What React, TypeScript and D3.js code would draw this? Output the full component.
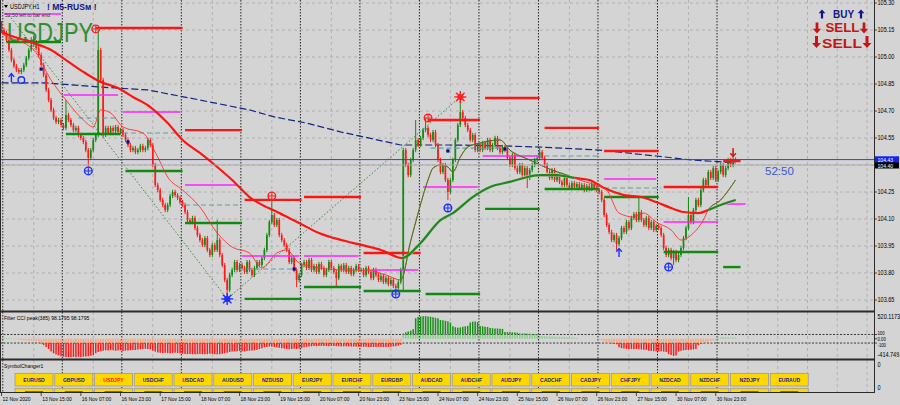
import React from 'react';
import * as d3 from 'd3';

const W = 900;
const H = 405;

// ---------- DATA ----------
const open0 = 105.19;
const closes = [
  105.150, 105.133, 105.094, 105.039, 104.983, 104.950, 104.928, 104.917, 104.928, 104.956,
  104.994, 105.039, 105.067, 105.083, 105.050, 105.011, 104.956, 104.900, 104.817, 104.761,
  104.706, 104.661, 104.639, 104.650, 104.622, 104.606, 104.678, 104.650, 104.622, 104.594,
  104.606, 104.567, 104.550, 104.528, 104.483, 104.439, 104.483, 104.539, 104.567, 105.039,
  104.872, 104.567, 104.606, 104.578, 104.606, 104.589, 104.611, 104.583, 104.594, 104.567,
  104.539, 104.511, 104.483, 104.494, 104.472, 104.483, 104.506, 104.483, 104.494, 104.539,
  104.511, 104.400, 104.289, 104.261, 104.206, 104.178, 104.150, 104.178, 104.228, 104.250,
  104.233, 104.217, 104.194, 104.178, 104.139, 104.094, 104.083, 104.106, 104.050, 104.011,
  103.983, 103.956, 103.994, 103.928, 103.900, 103.956, 103.928, 103.983, 103.900, 103.844,
  103.761, 103.706, 103.789, 103.817, 103.861, 103.817, 103.844, 103.828, 103.806, 103.861,
  103.817, 103.789, 103.828, 103.861, 103.844, 103.883, 103.928, 104.011, 104.083, 104.122,
  104.067, 104.094, 104.011, 103.983, 103.956, 103.928, 103.861, 103.883, 103.817, 103.761,
  103.789, 103.844, 103.861, 103.828, 103.872, 103.817, 103.839, 103.806, 103.850, 103.828,
  103.789, 103.817, 103.861, 103.828, 103.806, 103.772, 103.839, 103.817, 103.844, 103.806,
  103.828, 103.794, 103.817, 103.839, 103.817, 103.817, 103.789, 103.828, 103.806, 103.772,
  103.817, 103.789, 103.761, 103.783, 103.750, 103.772, 103.739, 103.761, 103.728, 103.717,
  103.750, 103.817, 104.483, 104.400, 104.344, 104.428, 104.483, 104.539, 104.511, 104.550,
  104.594, 104.606, 104.567, 104.539, 104.583, 104.511, 104.428, 104.361, 104.400, 104.317,
  104.250, 104.317, 104.428, 104.539, 104.622, 104.694, 104.661, 104.622, 104.594, 104.539,
  104.567, 104.483, 104.511, 104.483, 104.522, 104.494, 104.539, 104.483, 104.511, 104.550,
  104.494, 104.472, 104.500, 104.483, 104.439, 104.400, 104.456, 104.383, 104.361, 104.400,
  104.344, 104.383, 104.328, 104.372, 104.400, 104.428, 104.439, 104.472, 104.439, 104.400,
  104.361, 104.328, 104.372, 104.317, 104.344, 104.306, 104.289, 104.328, 104.289, 104.272,
  104.300, 104.278, 104.294, 104.272, 104.289, 104.261, 104.283, 104.267, 104.294, 104.272,
  104.261, 104.250, 104.206, 104.122, 104.067, 104.028, 103.983, 104.011, 103.961, 103.994,
  104.050, 104.028, 104.083, 104.050, 104.106, 104.128, 104.094, 104.139, 104.094, 104.067,
  104.106, 104.050, 104.083, 104.039, 104.061, 104.050, 104.011, 103.939, 103.900, 103.928,
  103.883, 103.917, 103.872, 103.900, 103.939, 103.994, 104.050, 104.122, 104.083, 104.150,
  104.206, 104.178, 104.261, 104.317, 104.289, 104.361, 104.328, 104.383, 104.317, 104.361,
  104.400, 104.344, 104.383, 104.428, 104.400, 104.428, 104.430,
];
const wick = 0.012;
const extremes: [number, string, number][] = [
  [0, 'h', 105.2], [12, 'h', 105.11], [13, 'h', 105.12], [26, 'h', 104.76], [35, 'l', 104.389],
  [39, 'h', 105.15], [87, 'h', 104.094], [91, 'l', 103.656], [109, 'h', 104.206], [119, 'l', 103.722],
  [135, 'l', 103.722], [159, 'l', 103.689], [162, 'l', 103.7], [167, 'h', 104.65], [171, 'h', 104.661],
  [180, 'l', 104.206], [185, 'h', 104.778], [212, 'l', 104.272], [217, 'h', 104.5], [248, 'l', 103.928],
  [257, 'h', 104.222], [271, 'l', 103.844], [277, 'h', 104.222], [295, 'h', 104.483],
];

const slowMA: [number, number][] = [
  [0, 105.14], [1, 105.133], [13, 105.078], [20, 105.039], [26, 104.983], [33, 104.917], [40, 104.861],
  [47, 104.828], [53, 104.778], [60, 104.722], [67, 104.633], [73, 104.539], [80, 104.467],
  [87, 104.389], [93, 104.317], [100, 104.222], [112, 104.133], [120, 104.078], [128, 104.022],
  [137, 103.983], [145, 103.956], [153, 103.928], [161.5, 103.883], [169, 103.967], [177, 104.094],
  [182, 104.133], [190, 104.222], [197, 104.278], [205, 104.306], [217, 104.344], [224, 104.344],
  [231, 104.328], [237, 104.317], [243, 104.272], [251, 104.233], [258, 104.222], [264, 104.194],
  [270, 104.161], [275, 104.139], [281, 104.133], [285, 104.15], [291, 104.183], [296, 104.206],
];
const fastMA: [number, number][] = [
  [0, 105.13], [1, 105.122], [13, 105.039], [20, 104.872], [26, 104.761], [33, 104.65], [37, 104.611],
  [40, 104.706], [44, 104.689], [49, 104.611], [57, 104.578], [63, 104.444], [67, 104.333],
  [73, 104.261], [80, 104.167], [87, 104.022], [93, 103.944], [100, 103.911], [105, 103.828],
  [111, 103.911], [115, 103.928], [120, 103.856], [128, 103.828], [139, 103.817], [147, 103.817],
  [155, 103.789], [161, 103.761], [165, 103.978], [168, 104.133], [172, 104.317], [174, 104.383],
  [177, 104.4], [180, 104.389], [182, 104.361], [185, 104.444], [188, 104.5], [193, 104.522],
  [201, 104.539], [205, 104.483], [213, 104.428], [222, 104.372], [228, 104.344], [233, 104.317],
  [237, 104.3], [244, 104.261], [249, 104.133], [255, 104.111], [259, 104.133], [264, 104.083],
  [270, 104.039], [274, 103.983], [279, 104.022], [283, 104.094], [285, 104.15], [290, 104.206],
  [296, 104.317],
];
const trendFlips = [161.5, 231, 285];

const longMA: [number, number][] = [
  [0, 104.856], [18, 104.856], [40, 104.833], [59, 104.817], [80, 104.761], [100, 104.706],
  [110, 104.667], [123, 104.633], [137, 104.583], [150, 104.544], [161, 104.511], [181, 104.511],
  [197, 104.508], [217, 104.5], [241, 104.483], [264, 104.45], [278, 104.428], [291, 104.417],
  [296, 104.411],
];

const zigzag: [number, number][] = [[3, 105.233], [91, 103.656], [185, 104.778]];

const redLevels: [number, number, number][] = [
  [38, 73, 105.161], [74, 97, 104.594], [98, 121, 104.206], [122, 145, 104.222], [146, 169, 103.911],
  [172, 193, 104.65], [195, 217, 104.772], [219, 241, 104.606], [243, 265, 104.478],
  [267, 289, 104.278], [291, 298, 104.422],
];
const greenLevels: [number, number, number][] = [
  [2, 24, 105.083], [26, 48, 104.572], [50, 73, 104.367], [74, 97, 104.078], [98, 121, 103.656],
  [122, 145, 103.722], [146, 169, 103.7], [171, 193, 103.683], [195, 217, 104.156],
  [219, 241, 104.267], [243, 265, 104.222], [267, 289, 103.917], [291, 298, 103.833],
];
const magentaLevels: [number, number, number][] = [
  [1, 24, 105.239], [25, 47, 104.789], [49, 72, 104.694], [74, 95, 104.289], [97, 120, 103.894],
  [122, 144, 103.894], [149, 168, 103.817], [170, 192, 104.278], [194, 217, 104.45],
  [243, 264, 104.322], [267, 289, 104.083], [291, 300, 104.183],
];
const tealLevels: [number, number, number][] = [
  [31, 47, 104.661], [49, 73, 104.578], [74, 96, 104.178], [99, 119, 103.822], [173, 203, 104.494],
  [219, 241, 104.45], [243, 266, 104.272],
];

const bidPrice = 104.43;
const askPrice = 104.40;

const signals: [number, number, string][] = [
  [4, 104.883, 'upBlue'], [8, 104.872, 'ring'], [35, 104.367, 'crossBlue'], [38, 105.156, 'crossRed'],
  [16, 104.933, 'square'], [51, 104.528, 'square'], [91, 103.656, 'starBlue'], [109, 104.228, 'crossRed'],
  [118, 103.822, 'square'], [159, 103.683, 'crossBlue'], [172, 104.661, 'crossRed'], [180, 104.478, 'square'],
  [180, 104.161, 'crossBlue'], [185, 104.778, 'starRed'], [203, 104.489, 'square'], [249, 103.911, 'upBlue'],
  [269, 103.833, 'crossBlue'], [295, 104.472, 'downRed'],
];

const cci = [
  20, 25, 20, 15, 10,
  5, -10, -20,
  -30, -35, -40, -45, -50, -55, -60, -70,
  -110, -150, -190, -240,
  -300, -340, -370, -390,
  -410, -420, -425, -430, -430, -425, -430, -420, -425, -420, -415, -410, -400, -380,
  -340, -310, -290,
  -280, -270, -275, -265, -270, -280, -275, -270, -285, -280, -275, -270, -260, -265, -250, -245,
  -240, -235, -240, -250, -280, -300, -320, -330, -335,
  -330, -335, -340, -330, -325, -335, -340, -350, -355, -360, -358, -362, -365, -360, -355,
  -360, -365, -360, -350, -355, -360, -365, -360, -350, -340, -330, -310, -300, -295, -290, -285,
  -290, -295, -285, -280, -275, -270, -260, -240, -220, -200, -190, -180,
  -185, -190, -200, -210, -220, -230, -240, -245, -240, -235, -240, -230,
  -220, -200, -190, -180, -175, -170, -175, -170, -168, -172, -170, -175, -170, -168, -172, -175,
  -180, -178, -175, -180, -182, -185, -180, -185,
  -188, -190, -185, -190, -192, -195, -190, -188, -190, -195, -192, -190, -185, -180, -175, -160, -140,
  120, 150, 170, 190, 220,
  480, 510, 520, 525, 530, 520, 515, 500, 490, 480,
  440, 430, 420, 410, 380,
  290, 270, 260, 265, 280, 290, 300,
  380, 400, 405, 390,
  300, 290, 280, 275,
  250, 245, 240, 240, 235, 230,
  160, 155, 150, 150, 145, 140,
  125, 120, 120, 118, 115, 110, 108, 105,
  70, 65, 60, 55, 55, 50, 50, 45, 45, 40, 40, 35, 30, 30, 25, 20,
  0, 0, 0, 0, 0, 0, 0, 0,
  -20, -40, -60, -80,
  -100, -110, -120, -130,
  -200, -220, -230, -235, -240, -240, -245, -240, -245, -250, -255, -260,
  -280, -285, -290, -290, -295, -290, -300, -310,
  -360, -380, -400, -390,
  -300, -280, -270, -260, -260, -255, -250, -240,
  -150, -120, -110, -100,
  -60, -50, -40, -30,
  30, 30, 35, 30, 30, 25, 30, 30,
];
const cciMax = 520.1173;
const cciMin = -414.749;

const priceTicks = [105.3, 105.15, 105.0, 104.85, 104.7, 104.55, 104.4, 104.25, 104.1, 103.95, 103.8, 103.65];
const daySeps = [1, 25, 49, 73, 97, 121, 145, 169, 193, 217, 241, 265, 289];
const gridBars = [13, 37, 61, 85, 109, 133, 157, 181, 205, 229, 253, 277, 301, 313, 325, 337, 349];
const timeLabels: [number, string][] = [
  [0, '12 Nov 2020'], [16, '13 Nov 15:00'], [32, '16 Nov 07:00'], [48, '16 Nov 23:00'],
  [64, '17 Nov 15:00'], [80, '18 Nov 07:00'], [96, '18 Nov 23:00'], [112, '19 Nov 15:00'],
  [128, '20 Nov 07:00'], [144, '20 Nov 23:00'], [160, '23 Nov 15:00'], [176, '24 Nov 07:00'],
  [192, '24 Nov 23:00'], [208, '25 Nov 15:00'], [224, '26 Nov 07:00'], [240, '26 Nov 23:00'],
  [256, '27 Nov 15:00'], [272, '30 Nov 07:00'], [288, '30 Nov 23:00'],
];
const symbols = [
  'EURUSD', 'GBPUSD', 'USDJPY', 'USDCHF', 'USDCAD', 'AUDUSD', 'NZDUSD', 'EURJPY', 'EURCHF', 'EURGBP',
  'AUDCAD', 'AUDCHF', 'AUDJPY', 'CADCHF', 'CADJPY', 'CHFJPY', 'NZDCAD', 'NZDCHF', 'NZDJPY', 'EURAUD',
];
const secondRowCount = 20;
const currentSymbol = 'USDJPY';

// ---------- LAYOUT ----------
const AX = 874;
const MAIN_BOTTOM = 310;
const FONT = 'Liberation Sans, Arial, sans-serif';
const BG = '#d4d4d4';

function T(props: any) {
  const { x, y, children, size = 6.5, fill = '#000', weight = 'normal', anchor = 'start', sx = 0.85, family = FONT } = props;
  return (
    <text transform={`translate(${x},${y}) scale(${sx},1)`} fontSize={size} fill={fill}
      fontWeight={weight} textAnchor={anchor} fontFamily={family}>{children}</text>
  );
}

export default function App() {
  const x = d3.scaleLinear().domain([0, 296]).range([1.5, 1.5 + 2.48 * 296]);
  const y = d3.scaleLinear().domain([103.65, 105.3]).range([300, 3]);
  const yc = d3.scaleLinear().domain([cciMin, cciMax]).range([356.5, 316.5]);

  const hiMap = new Map<number, number>();
  const loMap = new Map<number, number>();
  extremes.forEach(([b, t, v]) => (t === 'h' ? hiMap : loMap).set(b, v));

  const candles = closes.map((c, i) => {
    const o = i === 0 ? open0 : closes[i - 1];
    const h = hiMap.has(i) ? hiMap.get(i)! : Math.max(o, c) + wick;
    const l = loMap.has(i) ? loMap.get(i)! : Math.min(o, c) - wick;
    return { i, o, c, h, l };
  });

  const line = d3.line<[number, number]>().x(d => x(d[0])).y(d => y(d[1])).curve(d3.curveMonotoneX);
  const lineLin = d3.line<[number, number]>().x(d => x(d[0])).y(d => y(d[1]));

  const bounds = [-10, ...trendFlips, 400];
  const upRanges: [number, number][] = [];
  for (let k = 0; k < bounds.length - 1; k++) if (k % 2 === 1) upRanges.push([bounds[k], bounds[k + 1]]);

  const levelSeg = (arr: [number, number, number][], color: string, w: number, dash?: string) =>
    arr.map(([a, b, p], k) => (
      <line key={color + k} x1={x(a)} x2={x(b)} y1={y(p)} y2={y(p)} stroke={color} strokeWidth={w}
        strokeDasharray={dash} />
    ));

  const marker = (s: [number, number, string], k: number) => {
    const [b, p, t] = s;
    const cx = x(b), cy = y(p);
    if (t === 'square') return <rect key={k} x={cx - 1.6} y={cy - 1.6} width={3.2} height={3.2} fill="#0a0a80" />;
    if (t === 'ring') return <circle key={k} cx={cx} cy={cy} r={3.3} fill="none" stroke="#1a2fff" strokeWidth={1.4} />;
    if (t === 'crossBlue' || t === 'crossRed') {
      const col = t === 'crossBlue' ? '#1a2fff' : '#ff2020';
      return (
        <g key={k} transform={`translate(${cx},${cy})`}>
          <circle r={3.8} fill="none" stroke={col} strokeWidth={1.4} />
          <line x1={-3.8} x2={3.8} y1={0} y2={0} stroke={col} strokeWidth={1} />
          <line y1={-3.8} y2={3.8} x1={0} x2={0} stroke={col} strokeWidth={1} />
        </g>
      );
    }
    if (t === 'starBlue' || t === 'starRed') {
      const col = t === 'starBlue' ? '#1a2fff' : '#ff2020';
      const spokes = d3.range(8).map(j => (j * Math.PI) / 4);
      return (
        <g key={k} transform={`translate(${cx},${cy})`}>
          {spokes.map((a, j) => (
            <line key={j} x1={0} y1={0} x2={6 * Math.cos(a)} y2={6 * Math.sin(a)} stroke={col} strokeWidth={1.4} />
          ))}
          <circle r={3} fill={col} />
        </g>
      );
    }
    if (t === 'upBlue') {
      return (
        <g key={k} transform={`translate(${cx},${cy})`} stroke="#1a2fff" strokeWidth={1.4} fill="none">
          <line x1={0} y1={4} x2={0} y2={-4} />
          <path d="M-2.8,-1.2 L0,-4.5 L2.8,-1.2" />
        </g>
      );
    }
    if (t === 'downRed') {
      return (
        <g key={k} transform={`translate(${cx},${cy})`} stroke="#e01010" strokeWidth={1.4} fill="none">
          <line x1={0} y1={-4} x2={0} y2={4} />
          <path d="M-2.8,1.2 L0,4.5 L2.8,1.2" />
        </g>
      );
    }
    return null;
  };

  const bigArrow = (cx: number, cy: number, up: boolean, col: string, s: number) => {
    const d = up
      ? `M0,${-s} L${s * 0.75},${-s * 0.15} L${s * 0.25},${-s * 0.15} L${s * 0.25},${s} L${-s * 0.25},${s} L${-s * 0.25},${-s * 0.15} L${-s * 0.75},${-s * 0.15} Z`
      : `M0,${s} L${s * 0.75},${s * 0.15} L${s * 0.25},${s * 0.15} L${s * 0.25},${-s} L${-s * 0.25},${-s} L${-s * 0.25},${s * 0.15} L${-s * 0.75},${s * 0.15} Z`;
    return <path d={d} transform={`translate(${cx},${cy})`} fill={col} />;
  };

  const btnX0 = 15;
  const btnStep = 39.75;
  const btnW = 38;

  return (
    <svg width={W} height={H} viewBox={`0 0 ${W} ${H}`}
      style={{ position: 'fixed', left: 0, top: 0, display: 'block', background: BG }}>
      <defs>
        <clipPath id="mainClip"><rect x={0} y={0} width={AX} height={MAIN_BOTTOM} /></clipPath>
        {upRanges.map(([a, b], k) => (
          <clipPath key={k} id={`up${k}`}><rect x={x(a)} y={0} width={x(b) - x(a)} height={MAIN_BOTTOM} /></clipPath>
        ))}
        <clipPath id="symClip"><rect x={0} y={361} width={AX} height={31} /></clipPath>
      </defs>
      <rect x={0} y={0} width={W} height={H} fill={BG} />

      {gridBars.map((b, k) => (
        <line key={'g' + k} x1={x(b)} x2={x(b)} y1={0} y2={392} stroke="#a8a8a8" strokeWidth={0.8} strokeDasharray="3,3" />
      ))}
      {daySeps.map((b, k) => (
        <line key={'d' + k} x1={x(b) - 1.2} x2={x(b) - 1.2} y1={0} y2={392} stroke="#111" strokeWidth={0.9} strokeDasharray="1.5,1.5" />
      ))}
      {priceTicks.map((p, k) => (
        <line key={'h' + k} x1={0} x2={AX} y1={y(p)} y2={y(p)} stroke="#a8a8a8" strokeWidth={0.8} strokeDasharray="3,3" />
      ))}

      <g clipPath="url(#mainClip)">
        <text x={7} y={42} fontSize={27} fill="#2f8f2f" fontFamily={FONT} textLength={86} lengthAdjust="spacingAndGlyphs">USDJPY</text>

        <path d={lineLin(zigzag) || ''} fill="none" stroke="#2e7d2e" strokeWidth={0.9} strokeDasharray="1.5,2" />
        <path d={lineLin(longMA) || ''} fill="none" stroke="#1a237e" strokeWidth={1.2} strokeDasharray="7,3" />

        {candles.map(d => {
          const up = d.c >= d.o;
          const col = up ? '#138a13' : '#ff1a1a';
          const top = y(Math.max(d.o, d.c));
          const bot = y(Math.min(d.o, d.c));
          return (
            <g key={'c' + d.i}>
              <line x1={x(d.i)} x2={x(d.i)} y1={y(d.h)} y2={y(d.l)} stroke={col} strokeWidth={1} />
              <rect x={x(d.i) - 0.85} y={top} width={1.7} height={Math.max(1, bot - top)} fill={col} />
            </g>
          );
        })}

        {levelSeg(tealLevels, '#5f9ea0', 1.1, '5,3')}
        {levelSeg(magentaLevels, '#ff22ff', 1.5)}
        {levelSeg(greenLevels, '#108a10', 2.4)}
        {levelSeg(redLevels, '#ff1414', 2.4)}

        <path d={line(slowMA) || ''} fill="none" stroke="#ff1414" strokeWidth={2.2} />
        <path d={line(fastMA) || ''} fill="none" stroke="#ff3030" strokeWidth={0.9} />
        {upRanges.map((_, k) => (
          <g key={'ug' + k} clipPath={`url(#up${k})`}>
            <path d={line(slowMA) || ''} fill="none" stroke={BG} strokeWidth={3} />
            <path d={line(slowMA) || ''} fill="none" stroke="#1b8a1b" strokeWidth={2.2} />
            <path d={line(fastMA) || ''} fill="none" stroke="#1b8a1b" strokeWidth={0.9} />
          </g>
        ))}

        <line x1={0} x2={AX} y1={y(askPrice)} y2={y(askPrice)} stroke="#a9a9a9" strokeWidth={1} />
        <line x1={0} x2={AX} y1={y(bidPrice)} y2={y(bidPrice)} stroke="#2b3bff" strokeWidth={1} />

        {signals.map(marker)}

        <path d="M4,5 L8,5 L6,8 Z" fill="#000" />
        <T x={10} y={9}>USDJPY,H1</T>
        <T x={47} y={10} size={9} weight="bold" fill="#141480" sx={0.95}>! M5-RUSм !</T>
        <T x={5} y={16.5} size={6} fill="#333">52:50 left to bar end</T>

        {bigArrow(822, 14, true, '#14148a', 4.5)}
        <text x={843.5} y={18} fontSize={10} fontWeight="bold" fill="#14148a" textAnchor="middle" fontFamily={FONT}>BUY</text>
        {bigArrow(861, 14, true, '#14148a', 4.5)}
        {bigArrow(817, 28, false, '#c81414', 5.5)}
        <text x={842.5} y={32} fontSize={12} fontWeight="bold" fill="#c81414" textAnchor="middle" fontFamily={FONT} textLength={34} lengthAdjust="spacingAndGlyphs">SELL</text>
        {bigArrow(864, 28, false, '#c81414', 5.5)}
        {bigArrow(816.5, 42, false, '#c81414', 6)}
        <text x={842} y={47.5} fontSize={13.5} fontWeight="bold" fill="#c81414" textAnchor="middle" fontFamily={FONT} textLength={40} lengthAdjust="spacingAndGlyphs">SELL</text>
        {bigArrow(867, 42, false, '#c81414', 6)}

        <text x={765} y={175} fontSize={11.5} fill="#3a5ad0" fontFamily={FONT}>52:50</text>
      </g>

      {/* ---------- CCI panel ---------- */}
      <line x1={0} x2={AX} y1={yc(100)} y2={yc(100)} stroke="#111" strokeWidth={0.8} strokeDasharray="2,1.5" />
      <line x1={0} x2={AX} y1={yc(-100)} y2={yc(-100)} stroke="#111" strokeWidth={0.8} strokeDasharray="2,1.5" />
      {cci.map((v, i) => {
        const xi = x(i);
        const pale = Math.max(-100, Math.min(100, v));
        const palCol = v >= 0 ? '#8ccf8c' : '#ffa47a';
        const strongCol = v >= 0 ? '#169016' : '#ff1a1a';
        return (
          <g key={'cc' + i}>
            {v !== 0 && (
              <line x1={xi} x2={xi} y1={yc(0)} y2={yc(pale)} stroke={palCol} strokeWidth={1.5} />
            )}
            {Math.abs(v) > 100 && (
              <line x1={xi} x2={xi} y1={yc(v >= 0 ? 100 : -100)} y2={yc(v)} stroke={strongCol} strokeWidth={1.5} />
            )}
          </g>
        );
      })}
      <T x={4} y={319.5} size={6}>Filter CCI peak(385) 98.1795 98.1795</T>

      {/* ---------- Symbol changer panel ---------- */}
      <T x={4} y={367.5} size={6}>SymbolChanger1</T>
      <g clipPath="url(#symClip)">
        {symbols.map((s, k) => {
          const bx = btnX0 + k * btnStep;
          return (
            <g key={'b' + k}>
              <rect x={bx} y={373.5} width={btnW} height={12.5} fill="#ffd700" stroke="#9a9a9a" strokeWidth={0.8} />
              <T x={bx + btnW / 2} y={382} size={6} weight="bold" anchor="middle"
                fill={s === currentSymbol ? '#ff2020' : '#1a1a8a'}>{s}</T>
            </g>
          );
        })}
        {d3.range(secondRowCount).map(k => {
          const bx = btnX0 + k * btnStep;
          return (
            <g key={'b2' + k}>
              <rect x={bx} y={388.3} width={btnW} height={12.5} fill="#ffd700" stroke="#9a9a9a" strokeWidth={0.8} />
              <rect x={bx + 10} y={391} width={btnW - 20} height={1.2} fill="#6a6a50" />
            </g>
          );
        })}
      </g>

      {/* ---------- frames ---------- */}
      <line x1={0} x2={AX} y1={311.5} y2={311.5} stroke="#2a2a2a" strokeWidth={2} />
      <line x1={0} x2={AX} y1={359.5} y2={359.5} stroke="#2a2a2a" strokeWidth={2} />
      <line x1={0} x2={AX} y1={392.5} y2={392.5} stroke="#2a2a2a" strokeWidth={1} />
      <line x1={AX + 0.5} x2={AX + 0.5} y1={0} y2={393} stroke="#2a2a2a" strokeWidth={1} />
      <line x1={0.5} x2={0.5} y1={0} y2={393} stroke="#2a2a2a" strokeWidth={1} />

      {priceTicks.map((p, k) => (
        <g key={'pt' + k}>
          <line x1={AX} x2={AX + 3} y1={y(p)} y2={y(p)} stroke="#222" strokeWidth={0.8} />
          {p !== askPrice && <T x={AX + 3.5} y={y(p) + 2.3}>{p.toFixed(2)}</T>}
        </g>
      ))}
      <rect x={AX + 1} y={y(bidPrice) - 3.3} width={24} height={6.3} fill="#1020ff" />
      <T x={AX + 3.5} y={y(bidPrice) + 2.2} fill="#fff" size={6}>{bidPrice.toFixed(2)}</T>
      <rect x={AX + 1} y={y(askPrice) - 2.8} width={24} height={6.3} fill="#000" />
      <T x={AX + 3.5} y={y(askPrice) + 2.6} fill="#fff" size={6}>{askPrice.toFixed(2)}</T>

      <T x={AX + 3.5} y={yc(cciMax) + 2.2}>{cciMax.toFixed(4)}</T>
      <T x={AX + 3.5} y={yc(100) + 0.8} size={5}>100</T>
      <T x={AX + 3.5} y={yc(0) + 2.4} size={5}>0.00</T>
      <T x={AX + 3.5} y={yc(-100) + 3.6} size={5}>-100</T>
      <T x={AX + 3.5} y={yc(cciMin) + 0.5}>{cciMin.toFixed(3)}</T>
      {[yc(100), yc(0), yc(-100)].map((v, k) => (
        <line key={'ct' + k} x1={AX} x2={AX + 3} y1={v} y2={v} stroke="#222" strokeWidth={0.8} />
      ))}

      <T x={AX + 3.5} y={366.5}>0</T>
      <T x={AX + 3.5} y={390}>0</T>

      {timeLabels.map(([b, s], k) => (
        <g key={'tl' + k}>
          <line x1={x(b)} x2={x(b)} y1={392.5} y2={396} stroke="#222" strokeWidth={0.8} />
          <T x={x(b) + 1} y={400.5} size={6.2} sx={0.8}>{s}</T>
        </g>
      ))}
    </svg>
  );
}
